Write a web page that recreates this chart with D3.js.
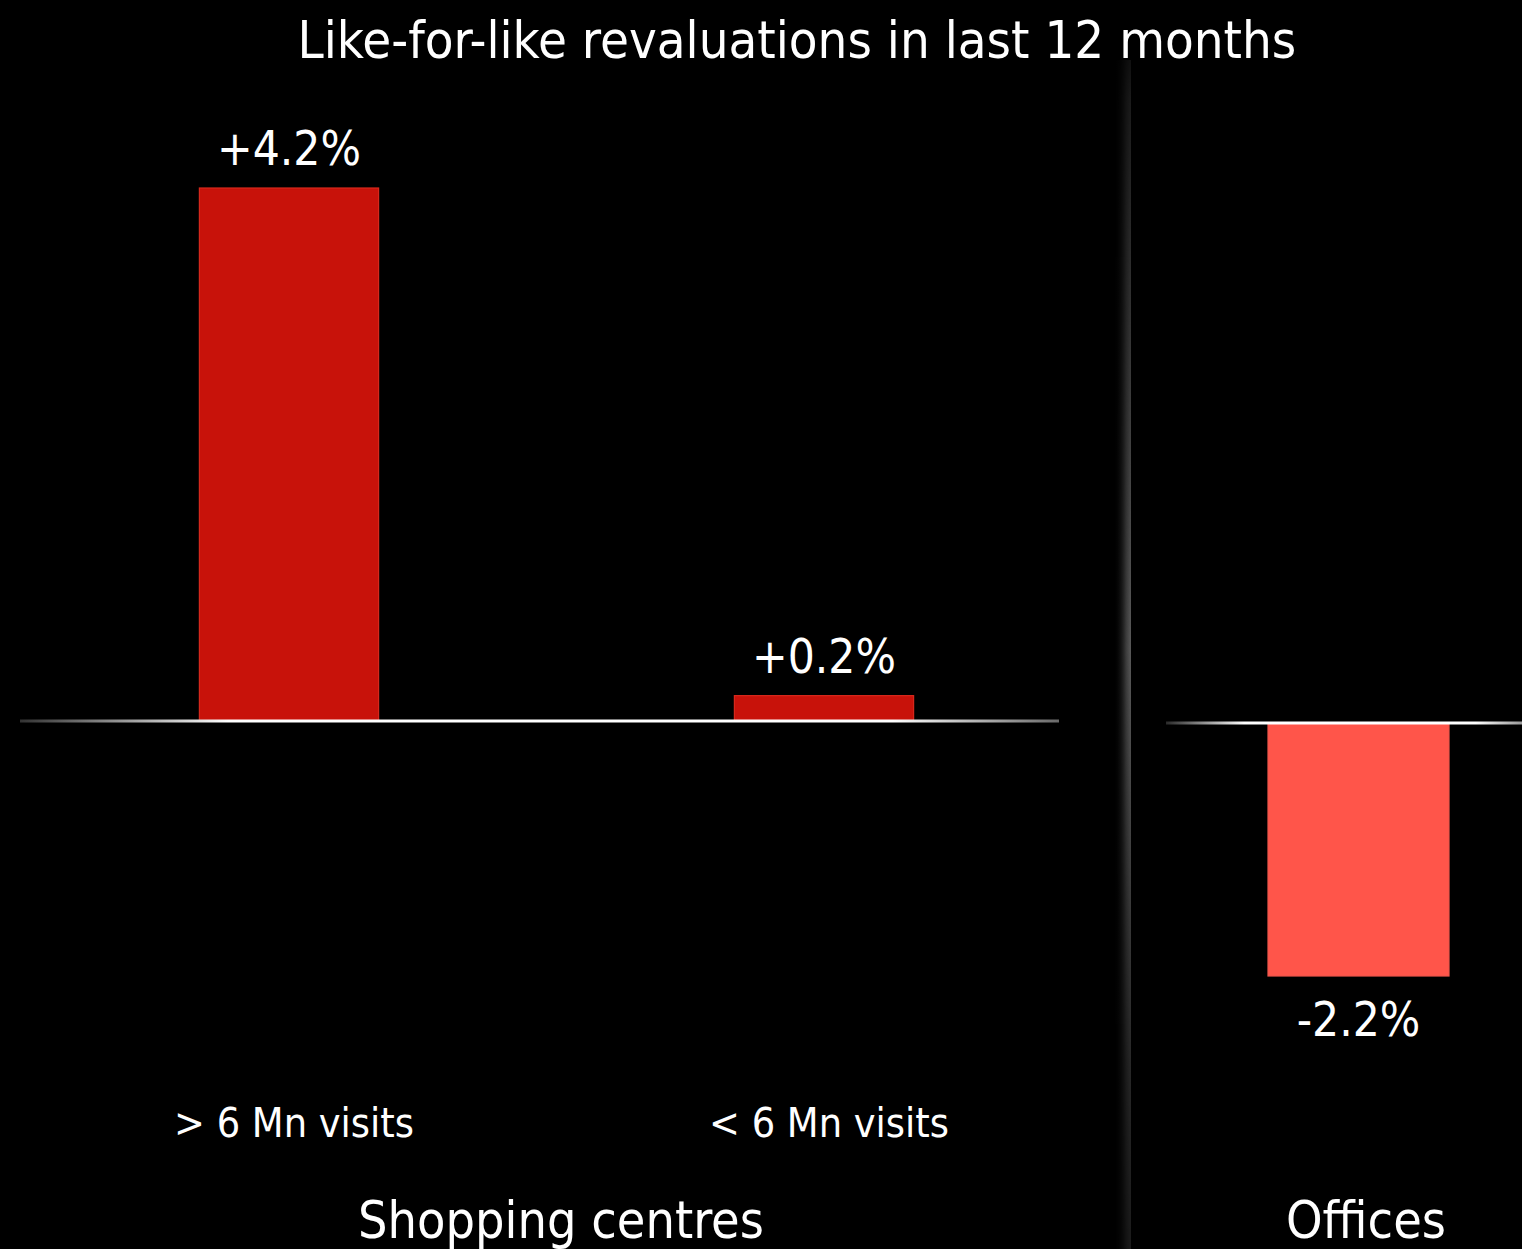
<!DOCTYPE html>
<html>
<head>
<meta charset="utf-8">
<script src="https://cdn.jsdelivr.net/npm/d3@7"></script>
<style>
  html, body { margin: 0; padding: 0; background: #000; }
  svg { display: block; }
  text { font-family: "DejaVu Sans Condensed", "DejaVu Sans", sans-serif; fill: #fff; }
</style>
</head>
<body>
<svg id="chart" width="1522" height="1249"></svg>
<script>
// Like-for-like revaluation, % change over the last 12 months
const title = "Like-for-like revaluations in last 12 months";

const retailCategories = ["> 6 Mn visits", "< 6 Mn visits"];
const retailValues = [4.2, 0.2];
const retailLabels = ["+4.2%", "+0.2%"];
const retailGroup = "Shopping centres";

const officeCategories = ["Offices"];
const officeValues = [-2.2];
const officeLabels = ["-2.2%"];
const officeGroup = "Offices";

const W = 1522, H = 1249;
const svg = d3.select("#chart");
const defs = svg.append("defs");

function hGrad(id, stops) {
  const g = defs.append("linearGradient").attr("id", id)
    .attr("x1", "0%").attr("x2", "100%").attr("y1", "0%").attr("y2", "0%");
  stops.forEach(([o, c, a]) => g.append("stop").attr("offset", o)
    .attr("stop-color", c).attr("stop-opacity", a == null ? 1 : a));
}
hGrad("axisLeft", [["0%", "#333"], ["20%", "#fff"], ["84%", "#fff"], ["100%", "#6a6a6a"]]);
hGrad("axisRight", [["0%", "#2a2a2a"], ["22%", "#fff"], ["87%", "#fff"], ["100%", "#999"]]);
hGrad("divider", [["0%", "#000", 0], ["70%", "#3a3a3a", 1], ["100%", "#5a5a5a", 1]]);
const vg = defs.append("linearGradient").attr("id", "dividerFade")
  .attr("x1", "0%").attr("x2", "0%").attr("y1", "0%").attr("y2", "100%");
[["0%", 0], ["8%", 0.3], ["52%", 1], ["85%", 0.45], ["100%", 0.3]].forEach(([o, a]) =>
  vg.append("stop").attr("offset", o).attr("stop-color", "#fff").attr("stop-opacity", a));
defs.append("mask").attr("id", "dividerMask")
  .append("rect").attr("x", 0).attr("y", 0).attr("width", W).attr("height", H)
  .attr("fill", "url(#dividerFade)");

// Fit a font size so a sample string spans the wanted width
function fitSize(sample, width, base) {
  const t = svg.append("text").attr("font-size", base).text(sample);
  const w = t.node().getComputedTextLength();
  t.remove();
  return base * width / w;
}
const titleSize = fitSize(title, 999, 52);
const valueSize = fitSize(retailLabels[0], 144, 48);
const catSize = fitSize(retailCategories[0], 240, 46);
const groupSize = fitSize(retailGroup, 406, 52);

// Title
svg.append("text").attr("x", 797).attr("y", 58).attr("text-anchor", "middle")
  .attr("font-size", titleSize).text(title);

// Panel divider
svg.append("rect").attr("x", 1114).attr("y", 60).attr("width", 17).attr("height", H - 60)
  .attr("fill", "url(#divider)").attr("mask", "url(#dividerMask)");

function panel(cfg) {
  const x = d3.scaleBand().domain(cfg.categories).range(cfg.xRange)
    .paddingInner(cfg.pad).paddingOuter(cfg.pad / 2);
  const y = d3.scaleLinear().domain(cfg.yDomain).range(cfg.yRange);
  const g = svg.append("g");

  g.selectAll("rect.bar").data(cfg.values).join("rect").attr("class", "bar")
    .attr("x", (d, i) => x(cfg.categories[i]))
    .attr("width", x.bandwidth())
    .attr("y", d => Math.min(y(d), y(0)))
    .attr("height", d => Math.abs(y(d) - y(0)))
    .attr("fill", cfg.color)
    .attr("stroke", cfg.edge).attr("stroke-width", 1.2);

  // zero line, drawn as a thin band so the gradient has a real box
  g.append("rect").attr("x", cfg.axis[0]).attr("width", cfg.axis[1] - cfg.axis[0])
    .attr("y", y(0) - 1.5).attr("height", 3)
    .attr("fill", cfg.axisFill);

  g.selectAll("text.value").data(cfg.values).join("text").attr("class", "value")
    .attr("x", (d, i) => x(cfg.categories[i]) + x.bandwidth() / 2)
    .attr("y", d => d >= 0 ? y(d) - 23 : y(d) + 60)
    .attr("text-anchor", "middle").attr("font-size", valueSize)
    .text((d, i) => cfg.labels[i]);

  if (cfg.showCats) {
    g.selectAll("text.cat").data(cfg.categories).join("text").attr("class", "cat")
      .attr("x", d => x(d) + x.bandwidth() / 2 + 5)
      .attr("y", 1137).attr("text-anchor", "middle").attr("font-size", catSize)
      .text(d => d);
  }
  g.append("text").attr("x", cfg.groupX).attr("y", 1238).attr("text-anchor", "middle")
    .attr("font-size", groupSize).text(cfg.group);
}

panel({
  categories: retailCategories, values: retailValues, labels: retailLabels,
  group: retailGroup, groupX: 561, showCats: true,
  xRange: [21.5, 1091.5], pad: 0.665,
  yDomain: [0, 4.2], yRange: [721, 188],
  color: "#c8120a", edge: "#d8281c",
  axis: [20, 1059], axisFill: "url(#axisLeft)"
});

panel({
  categories: officeCategories, values: officeValues, labels: officeLabels,
  group: officeGroup, groupX: 1366, showCats: false,
  xRange: [1268, 1449], pad: 0,
  yDomain: [-2.2, 0], yRange: [976, 723],
  color: "#ff554a", edge: "#f0564c",
  axis: [1166, 1522], axisFill: "url(#axisRight)"
});
</script>
</body>
</html>
